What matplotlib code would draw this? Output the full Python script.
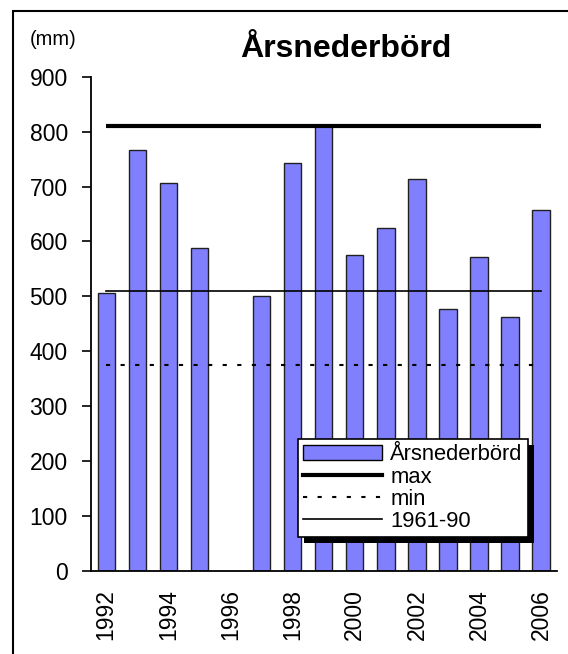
import matplotlib
matplotlib.use('Agg')
import matplotlib.pyplot as plt
from matplotlib.lines import Line2D
from matplotlib.patches import Patch, Rectangle
from matplotlib.transforms import IdentityTransform

plt.rcParams['font.family'] = ['Liberation Sans', 'DejaVu Sans']

# annual precipitation (mm), 1996 missing
years = list(range(1992, 2007))
precip = [506, 766, 706, 588, None, 500, 742, 810, 575, 625, 713, 477, 572, 462, 658]
max_level = 811
min_level = 376
normal_level = 510
y_ticks = [0, 100, 200, 300, 400, 500, 600, 700, 800, 900]
x_labels = ['1992', '1994', '1996', '1998', '2000', '2002', '2004', '2006']
legend_labels = ['Årsnederbörd', 'max', 'min', '1961-90']

bar_color = '#8080FF'

fig = plt.figure(figsize=(5.68, 6.54), dpi=100)
ax = fig.add_axes([0.1597, 0.1269, 0.8204, 0.7558])

idx = [i for i, v in enumerate(precip) if v is not None]
vals = [precip[i] for i in idx]
ax.bar(idx, vals, width=0.56, color=bar_color, edgecolor='#202020', linewidth=1, zorder=2)

x_span = [0, len(years) - 1]
ax.plot(x_span, [max_level] * 2, color='black', lw=3, solid_capstyle='butt', zorder=3)
ax.plot(x_span, [min_level] * 2, color='black', lw=1.5, linestyle=(0, (2, 5)), zorder=3)
ax.plot(x_span, [normal_level] * 2, color='black', lw=1.2, zorder=3)

ax.set_xlim(-0.5, len(years) - 0.5)
ax.set_ylim(0, 900)
ax.set_yticks(y_ticks)
ax.set_xticks([years.index(int(y)) for y in x_labels])
ax.set_xticklabels(x_labels, rotation=90)
ax.tick_params(axis='y', direction='out', length=6.5, width=1.2, pad=10, labelsize=16.5)
ax.tick_params(axis='x', length=0, pad=13, labelsize=16.5)
for side in ['top', 'right']:
    ax.spines[side].set_visible(False)
for side in ['left', 'bottom']:
    ax.spines[side].set_linewidth(1.3)

fig.text(345.9 / 568, 1 - 56.7 / 654, 'Årsnederbörd', ha='center', va='baseline',
         fontsize=23, fontweight='bold')
fig.text(30 / 568, 1 - 45 / 654, '(mm)', ha='left', va='baseline', fontsize=14.5)

handles = [Patch(facecolor=bar_color, edgecolor='black', lw=1),
           Line2D([], [], color='black', lw=3),
           Line2D([], [], color='black', lw=1.5, linestyle=(0, (2, 5))),
           Line2D([], [], color='black', lw=1.2)]
leg = ax.legend(handles, legend_labels, loc='upper left',
                bbox_to_anchor=(298 / 568, 1 - 439 / 654), bbox_transform=fig.transFigure,
                borderaxespad=0, fontsize=15.8, frameon=True, fancybox=False,
                edgecolor='black', framealpha=1, handlelength=3.6, handletextpad=0.35,
                labelspacing=0.05, borderpad=0.25)
leg.get_frame().set_linewidth(1.2)
leg.set_zorder(6)

# black drop shadow behind the legend
fig.canvas.draw()
bb = leg.get_window_extent()
ax.add_patch(Rectangle((bb.x0 + 6, bb.y0 - 6), bb.width, bb.height, facecolor='black',
                       edgecolor='none', transform=IdentityTransform(), clip_on=False, zorder=5.5))

# outer frame of the chart area
fig.add_artist(Rectangle((13 / 568, -0.1), 1.2, 1.1 - 11 / 654, transform=fig.transFigure,
                         fill=False, lw=1.5, edgecolor='black'))

fig.savefig('out.png', dpi=100)
